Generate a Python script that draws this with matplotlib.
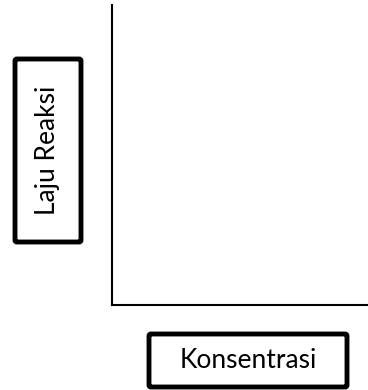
import matplotlib.pyplot as plt
from matplotlib.patches import FancyBboxPatch

x_label = "Konsentrasi"
y_label = "Laju Reaksi"

W, H = 368, 390
fig = plt.figure(figsize=(W / 100, H / 100), dpi=100)

# empty plot area, only left and bottom axis lines
ax = fig.add_axes([112 / W, (H - 305) / H, (W - 112) / W, (305 - 5) / H])
ax.spines['top'].set_visible(False)
ax.spines['right'].set_visible(False)
ax.spines['left'].set_linewidth(1.5)
ax.spines['bottom'].set_linewidth(1.5)
ax.set_xticks([])
ax.set_yticks([])
ax.patch.set_alpha(0)

# overlay in pixel coordinates for the label boxes
ov = fig.add_axes([0, 0, 1, 1])
ov.set_xlim(0, W)
ov.set_ylim(H, 0)
ov.axis('off')
ov.patch.set_alpha(0)

boxes = [
    (15, 59, 66, 183, y_label, 90),
    (149, 334, 198, 53, x_label, 0),
]
for bx, by, bw, bh, txt, rot in boxes:
    ov.add_patch(FancyBboxPatch((bx, by), bw, bh, boxstyle="round,pad=0,rounding_size=2",
                                fill=False, edgecolor='black', linewidth=3.5))
    ov.text(bx + bw / 2, by + bh / 2, txt, rotation=rot, ha='center', va='center',
            fontsize=19, family='Lato', color='black')

fig.savefig("out.png", dpi=100)
